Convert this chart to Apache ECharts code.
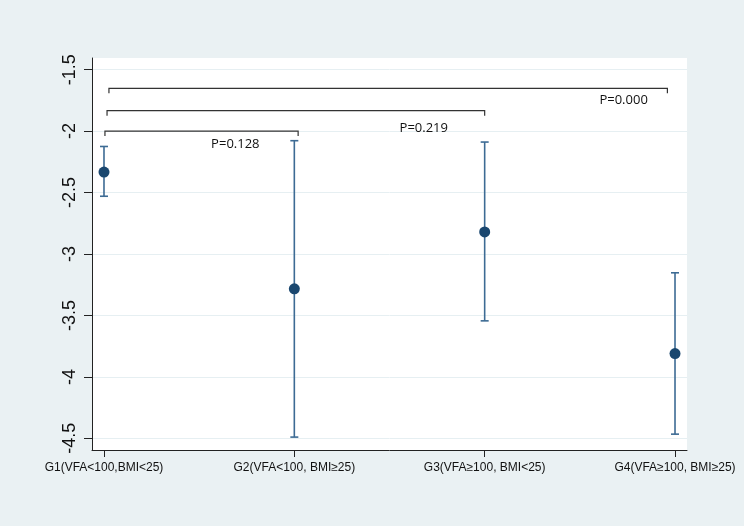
<!DOCTYPE html>
<html>
<head>
<meta charset="utf-8">
<script src="https://cdn.jsdelivr.net/npm/echarts@6/dist/echarts.min.js"></script>
<style>
  html, body { margin: 0; padding: 0; background: #eaf1f3; }
  #chart { width: 744px; height: 526px; }
</style>
</head>
<body>
<div id="chart"></div>
<script>
// groups on the x axis (positions 1..4)
const groups = ['G1(VFA<100,BMI<25)', 'G2(VFA<100, BMI≥25)', 'G3(VFA≥100, BMI<25)', 'G4(VFA≥100, BMI≥25)'];
const means = [-2.333, -3.283, -2.82, -3.81];
const upper = [-2.125, -2.078, -2.089, -3.153];
const lower = [-2.53, -4.49, -3.544, -4.466];
const yTicks = [-4.5, -4, -3.5, -3, -2.5, -2, -1.5];

// comparison brackets: start x, end x, level
const bracketStart = [1.005, 1.016, 1.026];
const bracketEnd = [2.02, 3.0, 3.96];
const bracketLevel = [-2.0, -1.834, -1.652];
const pLabels = ['P=0.128', 'P=0.219', 'P=0.000'];
const pLabelX = [1.69, 2.68, 3.73];
const pLabelY = [-2.11, -1.98, -1.75];

const chart = echarts.init(document.getElementById('chart'));

const errData = groups.map((g, i) => [i + 1, lower[i], upper[i]]);
const meanData = groups.map((g, i) => [i + 1, means[i]]);
const bracketData = pLabels.map((p, i) => [bracketStart[i], bracketEnd[i], bracketLevel[i]]);
const pData = pLabels.map((p, i) => [pLabelX[i], pLabelY[i], p]);

const option = {
  backgroundColor: '#eaf1f3',
  animation: false,
  grid: {
    left: 92, right: 57, top: 58, bottom: 76,
    show: true, backgroundColor: '#ffffff', borderWidth: 0
  },
  xAxis: {
    type: 'value',
    min: 0.937, max: 4.063,
    axisLine: { show: true, lineStyle: { color: '#222', width: 1 } },
    axisTick: { show: true, length: 7, customValues: [1, 2, 3, 4], lineStyle: { color: '#222' } },
    axisLabel: {
      customValues: [1, 2, 3, 4],
      formatter: v => groups[Math.round(v) - 1] || '',
      color: '#111', fontSize: 12, fontFamily: 'Liberation Sans, Arial', margin: 12
    },
    splitLine: { show: false }
  },
  yAxis: {
    type: 'value',
    min: -4.595, max: -1.405,
    axisLine: { show: true, lineStyle: { color: '#222', width: 1 } },
    axisTick: { show: true, length: 8, customValues: yTicks, lineStyle: { color: '#222' } },
    axisLabel: {
      customValues: yTicks,
      rotate: 90,
      formatter: v => String(v),
      color: '#111', fontSize: 18, fontFamily: 'Liberation Sans, Arial', margin: 13
    },
    splitLine: { show: true, lineStyle: { color: '#e6eff2', width: 1 } }
  },
  series: [
    {
      type: 'custom',
      data: errData,
      renderItem: function (params, api) {
        const x = api.value(0);
        const lo = api.coord([x, api.value(1)]);
        const hi = api.coord([x, api.value(2)]);
        const cap = 4;
        const st = { stroke: '#3d6b94', lineWidth: 1.6 };
        return {
          type: 'group',
          children: [
            { type: 'line', shape: { x1: lo[0], y1: lo[1], x2: hi[0], y2: hi[1] }, style: st },
            { type: 'line', shape: { x1: lo[0] - cap, y1: lo[1], x2: lo[0] + cap, y2: lo[1] }, style: st },
            { type: 'line', shape: { x1: hi[0] - cap, y1: hi[1], x2: hi[0] + cap, y2: hi[1] }, style: st }
          ]
        };
      },
      z: 2
    },
    {
      type: 'scatter',
      data: meanData,
      symbol: 'circle',
      symbolSize: 11,
      itemStyle: { color: '#1a476f', opacity: 1 },
      z: 3
    },
    {
      type: 'custom',
      data: bracketData,
      renderItem: function (params, api) {
        const a = api.coord([api.value(0), api.value(2)]);
        const b = api.coord([api.value(1), api.value(2)]);
        const drop = 5;
        return {
          type: 'polyline',
          shape: { points: [[a[0], a[1] + drop], [a[0], a[1]], [b[0], b[1]], [b[0], b[1] + drop]] },
          style: { stroke: '#333', lineWidth: 1.2, fill: null }
        };
      },
      z: 2
    },
    {
      type: 'custom',
      data: pData,
      renderItem: function (params, api) {
        const p = api.coord([api.value(0), api.value(1)]);
        return {
          type: 'text',
          x: p[0], y: p[1],
          style: {
            text: pLabels[params.dataIndex],
            align: 'center', verticalAlign: 'middle',
            fill: '#111', font: '13px "Open Sans", "Noto Sans", sans-serif'
          }
        };
      },
      z: 4
    }
  ]
};

chart.setOption(option);
</script>
</body>
</html>
